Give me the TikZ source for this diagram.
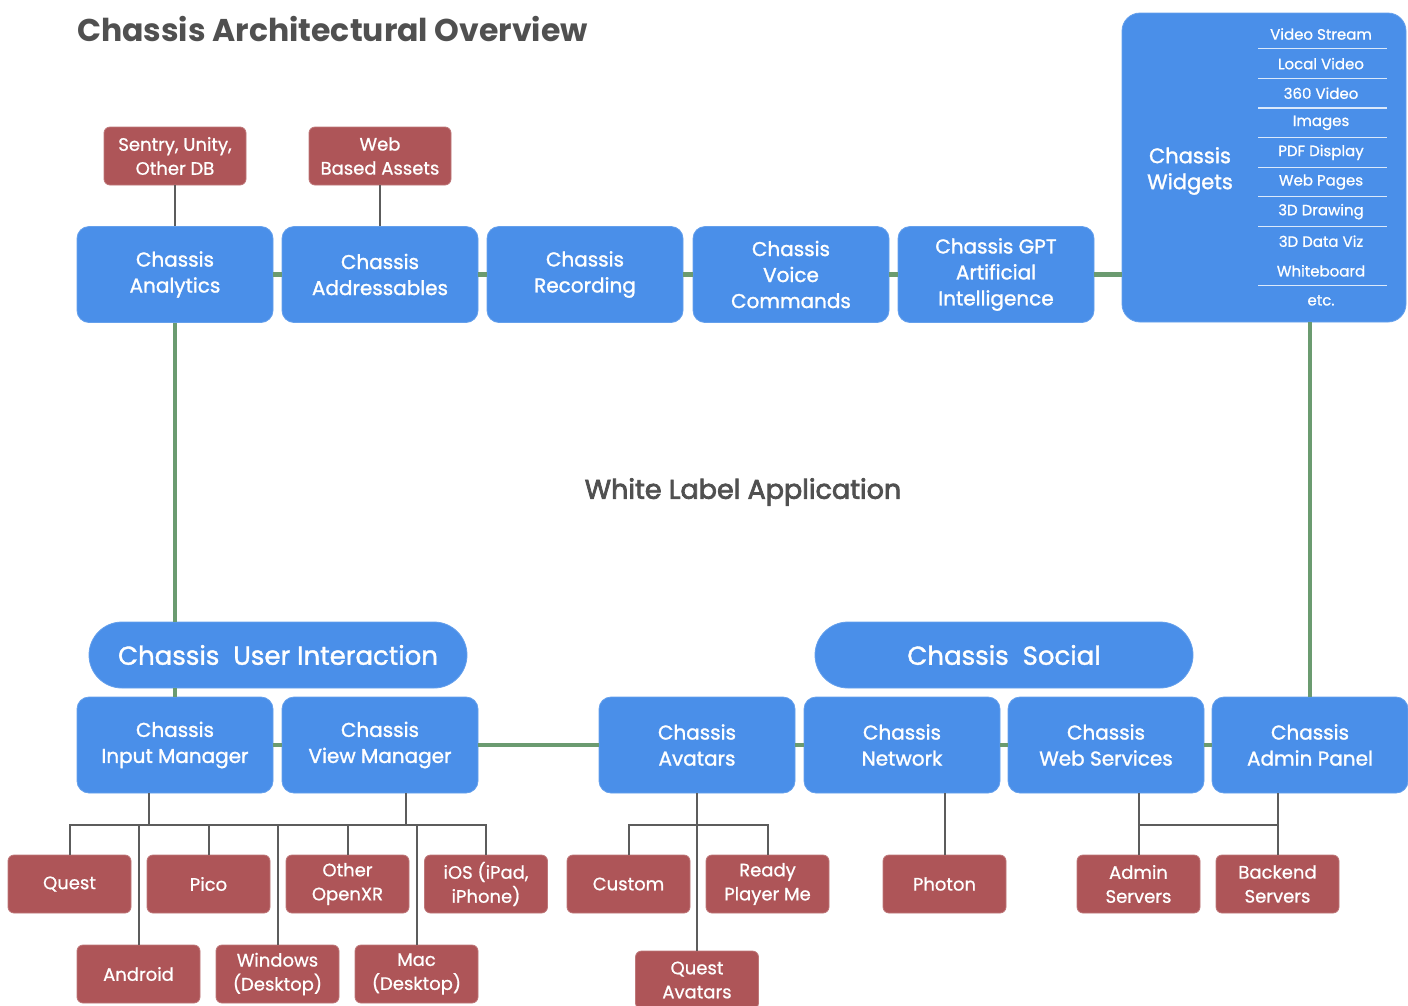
\documentclass[tikz,border=0pt]{standalone}
\usepackage{fontspec}
\setmainfont{Poppins}
\newfontfamily\medfont{Poppins}[FakeBold=1.4]
\newfontfamily\lightmed{Poppins}[FakeBold=0.8]
\newfontfamily\semifont{Poppins}[FakeBold=2.8]
\definecolor{boxblue}{HTML}{4A8FE9}
\definecolor{boxred}{HTML}{AE5558}
\definecolor{linkgreen}{HTML}{6B9B70}
\definecolor{linkgray}{HTML}{5C5C5C}
\definecolor{titlegray}{HTML}{505050}

\begin{document}
\begin{tikzpicture}[x=1pt,y=-1pt]
\tikzstyle{every node}+=[inner sep=0pt]
\tikzstyle{bluebox}=[fill=boxblue, draw=boxblue!85!white, line width=0.8pt, rounded corners=12pt, minimum width=196pt, minimum height=96pt, text=white, align=center, font=\fontsize{20}{26}\medfont]
\tikzstyle{redbox}=[fill=boxred, draw=boxred!80!white, line width=0.8pt, rounded corners=6pt, minimum width=123pt, minimum height=58pt, text=white, align=center, font=\fontsize{18}{24}\lightmed]
\tikzstyle{pill}=[fill=boxblue, draw=boxblue!85!white, line width=0.8pt, rounded corners=33pt, minimum width=378pt, minimum height=66pt, text=white, font=\fontsize{26}{30}\medfont]
\tikzstyle{bus}=[linkgreen, line width=4.5pt]
\tikzstyle{leaf}=[linkgray, line width=2pt]
\useasboundingbox (0,0) rectangle (1408,1005);

% headings
\node[anchor=west, text=titlegray, font=\fontsize{31.5}{36}\selectfont\bfseries] (title) at (77,29) {Chassis Architectural Overview};
\node[text=titlegray, font=\fontsize{27}{30}\semifont] (wla) at (743,492) {White Label Application};

% top row
\node[bluebox] (analytics) at (175,274.5) {Chassis\\Analytics};
\node[bluebox] (addressables) at (380,274.5) {Chassis\\Addressables};
\node[bluebox] (recording) at (585,274.5) {Chassis\\Recording};
\node[bluebox] (voice) at (791,274.5) {Chassis\\Voice\\Commands};
\node[bluebox] (gpt) at (996,274.5) {Chassis GPT\\Artificial\\Intelligence};
\node[bluebox, minimum width=284pt, minimum height=309pt, rounded corners=18pt] (widgets) at (1264,167.5) {};
\node[text=white, align=center, font=\fontsize{21}{26}\medfont] (wlabel) at (1190,171) {Chassis\\Widgets};

\node[redbox, minimum width=142pt] (sentry) at (175,156) {Sentry, Unity,\\Other DB};
\node[redbox, minimum width=142pt] (webassets) at (380,156) {Web\\Based Assets};

% widget list
\foreach \item [count=\i] in {Video Stream, Local Video, 360 Video, Images, PDF Display, Web Pages, 3D Drawing, 3D Data Viz, Whiteboard, etc.}
  \node[text=white, font=\fontsize{15}{18}\lightmed] (w\i) at (1321,{34+(\i-1)*29.6}) {\item};
\foreach \i in {1,...,7,9}
  \draw[white!80!boxblue, line width=1.2pt] (1258,{48.8+(\i-1)*29.6}) -- (1387,{48.8+(\i-1)*29.6});

% bottom row
\node[pill] (userint) at (278,655) {Chassis\ \ User Interaction};
\node[pill] (social) at (1004,655) {Chassis\ \ Social};
\node[bluebox] (inputmgr) at (175,745) {Chassis\\Input Manager};
\node[bluebox] (viewmgr) at (380,745) {Chassis\\View Manager};
\node[bluebox] (avatars) at (697,745) {Chassis\\Avatars};
\node[bluebox] (network) at (902,745) {Chassis\\Network};
\node[bluebox] (websvc) at (1106,745) {Chassis\\Web Services};
\node[bluebox] (adminpanel) at (1310,745) {Chassis\\Admin Panel};

% platforms
\node[redbox] (quest) at (69.5,884) {Quest};
\node[redbox] (pico) at (208.5,884) {Pico};
\node[redbox] (otherxr) at (347.5,884) {Other\\OpenXR};
\node[redbox] (ios) at (486,884) {iOS (iPad,\\iPhone)};
\node[redbox] (android) at (138.5,974) {Android};
\node[redbox] (windows) at (277.5,974) {Windows\\(Desktop)};
\node[redbox] (mac) at (416.5,974) {Mac\\(Desktop)};

% avatars, network, servers
\node[redbox] (custom) at (628.5,884) {Custom};
\node[redbox] (ready) at (767.5,884) {Ready\\Player Me};
\node[redbox] (questav) at (697,980) {Quest\\Avatars};
\node[redbox] (photon) at (944.5,884) {Photon};
\node[redbox] (adminsrv) at (1138.5,884) {Admin\\Servers};
\node[redbox] (backend) at (1277.5,884) {Backend\\Servers};

% green links
\draw[bus] (analytics) -- (addressables);
\draw[bus] (addressables) -- (recording);
\draw[bus] (recording) -- (voice);
\draw[bus] (voice) -- (gpt);
\draw[bus] (gpt) -- (gpt -| widgets.west);
\draw[bus] (analytics.south) -- (analytics.south |- userint.north);
\draw[bus] (inputmgr.north) -- (inputmgr.north |- userint.south);
\draw[bus] (adminpanel.north) -- (adminpanel.north |- widgets.south);
\draw[bus] (inputmgr) -- (viewmgr);
\draw[bus] (viewmgr) -- (avatars);
\draw[bus] (avatars) -- (network);
\draw[bus] (network) -- (websvc);
\draw[bus] (websvc) -- (adminpanel);

% gray links
\draw[leaf] (sentry) -- (analytics);
\draw[leaf] (webassets) -- (addressables);
\coordinate (pbar) at (278,825);
\draw[leaf] (quest.north) -- (quest.north |- pbar) -- (ios.north |- pbar) -- (ios.north);
\foreach \n in {pico,otherxr,android,windows,mac}
  \draw[leaf] (\n.north) -- (\n.north |- pbar);
\draw[leaf] ([xshift=-26pt]inputmgr.south) -- ([xshift=-26pt]inputmgr.south |- pbar);
\draw[leaf] ([xshift=26pt]viewmgr.south) -- ([xshift=26pt]viewmgr.south |- pbar);
\coordinate (abar) at (697,825);
\draw[leaf] (avatars) -- (questav);
\draw[leaf] (custom.north) -- (custom.north |- abar) -- (ready.north |- abar) -- (ready.north);
\draw[leaf] (photon.north) -- (photon.north |- network.south);
\draw[leaf] (adminsrv.north) -- (adminsrv.north |- websvc.south);
\draw[leaf] (backend.north) -- (backend.north |- adminpanel.south);
\draw[leaf] (adminsrv.north |- abar) -- (backend.north |- abar);
\end{tikzpicture}
\end{document}
